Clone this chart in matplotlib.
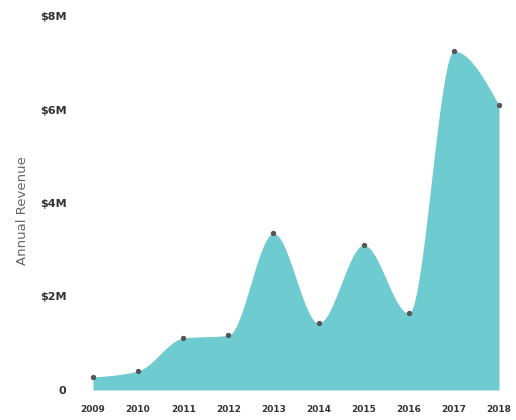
import matplotlib.pyplot as plt
import numpy as np


""" chart data """
years = [2009, 2010, 2011, 2012, 2013, 2014, 2015, 2016, 2017, 2018]
revenue = [0.28, 0.41, 1.11, 1.17, 3.35, 1.43, 3.10, 1.64, 7.25, 6.09]  # $M
ytick_vals = [0, 2, 4, 6, 8]
ytick_text = ["0", "$2M", "$4M", "$6M", "$8M"]


def monotone(x, y, n=40):
    """ monotone cubic curve through the points (like d3 curveMonotoneX) """
    x = np.asarray(x, float)
    y = np.asarray(y, float)
    h = np.diff(x)
    d = np.diff(y) / h
    m = np.zeros(len(x))
    for i in range(1, len(x) - 1):
        p = (d[i - 1] * h[i] + d[i] * h[i - 1]) / (h[i - 1] + h[i])
        m[i] = (np.sign(d[i - 1]) + np.sign(d[i])) * min(abs(d[i - 1]), abs(d[i]), 0.5 * abs(p))
    m[0] = (3 * d[0] - m[1]) / 2
    m[-1] = (3 * d[-1] - m[-2]) / 2
    xs, ys = [], []
    for i in range(len(x) - 1):
        t = np.linspace(0, 1, n, endpoint=False)
        h00 = 2 * t**3 - 3 * t**2 + 1
        h10 = t**3 - 2 * t**2 + t
        h01 = -2 * t**3 + 3 * t**2
        h11 = t**3 - t**2
        xs.extend(x[i] + t * h[i])
        ys.extend(h00 * y[i] + h10 * h[i] * m[i] + h01 * y[i + 1] + h11 * h[i] * m[i + 1])
    xs.append(x[-1])
    ys.append(y[-1])
    return np.array(xs), np.array(ys)


fig = plt.figure(figsize=(5.16, 4.2), dpi=100)
ax = fig.add_axes([93 / 516, 30 / 420, 406 / 516, 374 / 420])

cx, cy = monotone(years, revenue)
ax.fill_between(cx, 0, cy, color="#6ecbcf", lw=0)
ax.scatter(years, revenue, s=8, color="#555555", zorder=3, clip_on=False)

ax.set_xlim(2009, 2018)
ax.set_ylim(0, 8)
ax.set_xticks(years)
ax.set_xticklabels([str(y) for y in years], fontsize=6.5, fontweight="bold", color="#333333")
ax.set_yticks(ytick_vals)
ax.set_yticklabels(ytick_text, fontsize=8, fontweight="bold", color="#333333")
ax.tick_params(axis="x", length=0, pad=11)
ax.tick_params(axis="y", length=0, pad=19)
ax.set_ylabel("Annual Revenue", fontsize=9.5, color="#666666")
ax.yaxis.set_label_coords(-64 / 406, 0.48)
for s in ax.spines.values():
    s.set_visible(False)

fig.savefig("out.png", dpi=100)
